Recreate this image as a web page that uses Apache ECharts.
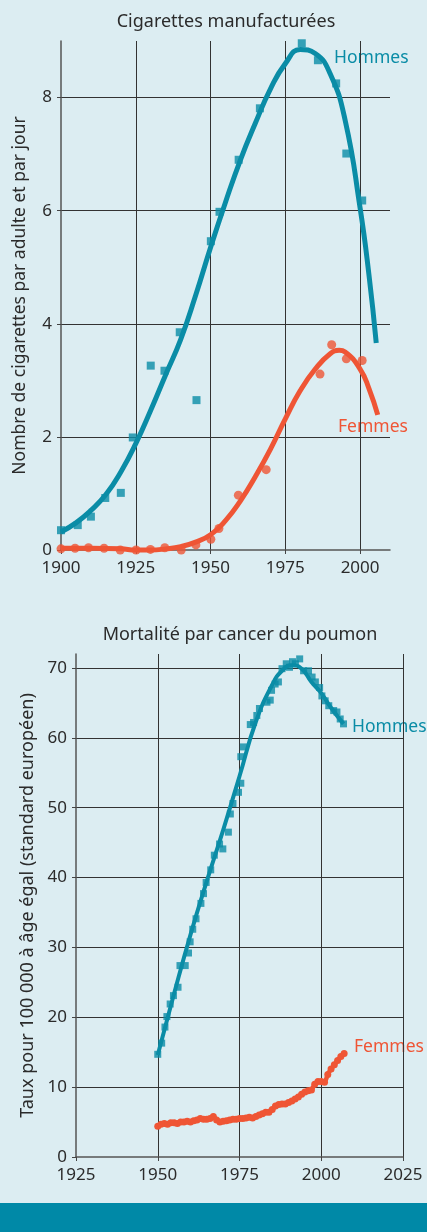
<!DOCTYPE html>
<html>
<head>
    <meta charset="utf-8"/>
    <title>Tabac</title>
    <script src="https://cdn.jsdelivr.net/npm/echarts@6.0.0/dist/echarts.min.js"></script>
    <style>
        body { margin: 0; background: #dcedf2; }
    </style>
</head>
<body>
<div id="chart" style="width: 427px;height:1232px;"></div>
<script type="text/javascript">
    // --- Cigarettes manufacturées (nombre par adulte et par jour) ---
    var cigHommesYears = [1900, 1905.6, 1910, 1914.8, 1920, 1924, 1930, 1934.6, 1939.7, 1945.3, 1950.1, 1953, 1959.4, 1966.5, 1980.5, 1985.9, 1992, 1995.4, 2000.7];
    var cigHommesValues = [0.35, 0.44, 0.59, 0.92, 1.01, 1.99, 3.26, 3.17, 3.85, 2.65, 5.46, 5.98, 6.9, 7.81, 8.96, 8.66, 8.25, 7.01, 6.18];
    var cigFemmesYears = [1900, 1904.7, 1909.2, 1914.4, 1919.8, 1925.1, 1929.9, 1934.7, 1940.2, 1945.1, 1950.1, 1952.8, 1959.3, 1968.6, 1986.6, 1990.5, 1995.4, 2000.7];
    var cigFemmesValues = [0.02, 0.03, 0.04, 0.03, 0, 0, 0.01, 0.04, 0, 0.09, 0.19, 0.38, 0.97, 1.42, 3.11, 3.63, 3.38, 3.35];
    // courbes lissées
    var cigHommesFitYears = [1900, 1905, 1910, 1915, 1920, 1925, 1930, 1935, 1940, 1945, 1950, 1955, 1960, 1965, 1970, 1975, 1980, 1985, 1990, 1995, 2000, 2003, 2005.4];
    var cigHommesFitValues = [0.32, 0.48, 0.7, 0.98, 1.38, 1.88, 2.47, 3.1, 3.72, 4.5, 5.35, 6.15, 6.9, 7.55, 8.15, 8.6, 8.85, 8.78, 8.42, 7.6, 6.05, 4.85, 3.66];
    var cigFemmesFitYears = [1900, 1910, 1920, 1925, 1930, 1935, 1940, 1945, 1950, 1955, 1960, 1965, 1970, 1975, 1980, 1985, 1990, 1993, 1995, 2000, 2003, 2005.9];
    var cigFemmesFitValues = [0.03, 0.03, 0.02, 0.0, 0.0, 0.02, 0.06, 0.14, 0.27, 0.52, 0.87, 1.3, 1.78, 2.32, 2.82, 3.2, 3.47, 3.53, 3.5, 3.2, 2.85, 2.39];

    // --- Mortalité par cancer du poumon (taux pour 100 000) ---
    var mortHommesYears = [1950.0, 1951.2, 1952.2, 1952.8, 1953.8, 1954.8, 1956.2, 1956.8, 1958.4, 1959.4, 1959.9, 1960.7, 1961.7, 1963.2, 1964.0, 1964.8, 1966.2, 1967.3, 1968.9, 1969.9, 1971.6, 1972.2, 1973.0, 1974.7, 1975.4, 1975.4, 1976.2, 1978.3, 1979.3, 1980.3, 1981.1, 1983.4, 1984.4, 1984.8, 1985.9, 1986.9, 1988.0, 1989.3, 1990.3, 1991.2, 1992.1, 1993.4, 1994.6, 1996.1, 1997.2, 1998.2, 1999.5, 2000.2, 2001.2, 2002.3, 2003.8, 2004.8, 2005.8, 2006.8];
    var mortHommesValues = [14.7, 16.3, 18.6, 20.1, 21.9, 23.1, 24.3, 27.4, 27.4, 29.2, 30.8, 32.6, 34.1, 36.3, 37.7, 39.3, 41.1, 43.2, 44.8, 44.1, 46.5, 49.1, 50.6, 52.2, 53.5, 57.3, 58.7, 61.9, 62.2, 63.2, 64.2, 65.1, 65.4, 66.8, 67.7, 68.0, 69.9, 70.6, 70.1, 70.9, 70.6, 71.3, 69.6, 69.6, 68.7, 68.0, 67.2, 66.0, 65.3, 64.6, 63.9, 63.7, 62.7, 62.0];
    var mortHommesFitYears = [1950, 1955, 1960, 1965, 1970, 1975, 1980, 1985, 1988, 1991, 1994, 1997, 2000, 2003, 2006.8];
    var mortHommesFitValues = [14.6, 23.4, 31.8, 39.5, 46.8, 54.5, 62.3, 67.6, 69.6, 70.4, 69.9, 68.0, 66.4, 64.3, 62.0];
    var mortFemmesYears = [];
    for (var y = 1950; y <= 2007; y++) mortFemmesYears.push(y);
    var mortFemmesValues = [
        4.4, 4.7, 4.8, 4.7, 4.9, 4.9, 4.8, 5.0, 5.0, 5.1, 5.0,
        5.2, 5.3, 5.5, 5.4, 5.4, 5.5, 5.8, 5.3, 5.0, 5.1,
        5.2, 5.3, 5.4, 5.4, 5.5, 5.5, 5.6, 5.7, 5.6, 5.8,
        6.0, 6.2, 6.4, 6.4, 6.8, 7.3, 7.5, 7.6, 7.6, 7.8,
        8.0, 8.3, 8.6, 9.0, 9.3, 9.5, 9.6, 10.4, 10.8, 10.8,
        10.7, 11.8, 12.6, 13.2, 13.8, 14.4, 14.8
    ];

    var teal = '#0a8ca6';
    var red = '#ef5535';
    var ink = '#2b2b2b';
    var font = 'Noto Sans';

    function zip(xs, ys) {
        return xs.map(function (x, i) { return [x, ys[i]]; });
    }

    function xAxis(gridIndex, min, max) {
        return {
            type: 'value', gridIndex: gridIndex, min: min, max: max, interval: 25,
            axisLine: { show: true, lineStyle: { color: '#555', width: 1.5 } },
            axisTick: { show: true, length: 4, lineStyle: { color: '#444' } },
            axisLabel: {
                color: ink, fontFamily: font, fontSize: 17, margin: 10,
                showMaxLabel: gridIndex === 1,
                formatter: function (v) { return String(v); }
            },
            splitLine: { show: true, showMinLine: false, showMaxLine: gridIndex === 1, lineStyle: { color: '#333', width: 1 } }
        };
    }

    function yAxis(gridIndex, max, interval, name, gap, nameSize) {
        return {
            type: 'value', gridIndex: gridIndex, min: 0, max: max, interval: interval,
            name: name, nameLocation: 'middle', nameGap: gap,
            nameTextStyle: { color: ink, fontFamily: font, fontSize: nameSize },
            axisLine: { show: true, lineStyle: { color: '#555', width: 1.5 } },
            axisTick: { show: true, length: 4, lineStyle: { color: '#444' } },
            axisLabel: { color: ink, fontFamily: font, fontSize: 17, margin: 9, showMaxLabel: false },
            splitLine: { show: true, showMinLine: false, showMaxLine: false, lineStyle: { color: '#333', width: 1 } }
        };
    }

    function text(str, x, y, color, align, size) {
        return {
            type: 'text', x: x, y: y,
            style: { text: str, fill: color, font: (size || 17.5) + 'px "Noto Sans"', textAlign: align || 'left', textVerticalAlign: 'middle' }
        };
    }

    var option = {
        backgroundColor: '#dcedf2',
        animation: false,
        grid: [
            { left: 61, top: 41, width: 329, height: 509 },
            { left: 76, top: 654, width: 327, height: 503 }
        ],
        xAxis: [xAxis(0, 1900, 2010), xAxis(1, 1925, 2025)],
        yAxis: [
            yAxis(0, 9, 2, 'Nombre de cigarettes par adulte et par jour', 32, 17.5),
            yAxis(1, 72, 10, 'Taux pour 100 000 à âge égal (standard européen)', 35, 18)
        ],
        graphic: [
            text('Cigarettes manufacturées', 226, 22, ink, 'center', 18),
            text('Mortalité par cancer du poumon', 240, 635, ink, 'center', 18),
            text('Hommes', 334, 58, teal),
            text('Femmes', 338, 427, red),
            text('Hommes', 352, 727, teal),
            text('Femmes', 354, 1047, red),
            { type: 'rect', shape: { x: 0, y: 1203, width: 427, height: 29 }, style: { fill: '#0089a7' } }
        ],
        series: [
            { type: 'line', xAxisIndex: 0, yAxisIndex: 0, data: zip(cigHommesFitYears, cigHommesFitValues), smooth: 0.5, showSymbol: false, lineStyle: { color: teal, width: 5 }, clip: false },
            { type: 'line', xAxisIndex: 0, yAxisIndex: 0, data: zip(cigFemmesFitYears, cigFemmesFitValues), smooth: 0.5, showSymbol: false, lineStyle: { color: red, width: 5 }, clip: false },
            { type: 'scatter', xAxisIndex: 0, yAxisIndex: 0, data: zip(cigHommesYears, cigHommesValues), symbol: 'rect', symbolSize: 8, itemStyle: { color: teal }, clip: false },
            { type: 'scatter', xAxisIndex: 0, yAxisIndex: 0, data: zip(cigFemmesYears, cigFemmesValues), symbol: 'circle', symbolSize: 9, itemStyle: { color: red }, clip: false },

            { type: 'line', xAxisIndex: 1, yAxisIndex: 1, data: zip(mortHommesFitYears, mortHommesFitValues), smooth: 0.5, showSymbol: false, lineStyle: { color: teal, width: 4 }, clip: false },
            { type: 'scatter', xAxisIndex: 1, yAxisIndex: 1, data: zip(mortHommesYears, mortHommesValues), symbol: 'rect', symbolSize: 7, itemStyle: { color: teal }, clip: false },
            { type: 'line', xAxisIndex: 1, yAxisIndex: 1, data: zip(mortFemmesYears, mortFemmesValues), smooth: 0.2, symbol: 'circle', symbolSize: 7, showAllSymbol: true, itemStyle: { color: red }, lineStyle: { color: red, width: 4.5 }, clip: false }
        ]
    };

    var chart = echarts.init(document.getElementById('chart'));
    chart.setOption(option);
</script>
</body>
</html>
